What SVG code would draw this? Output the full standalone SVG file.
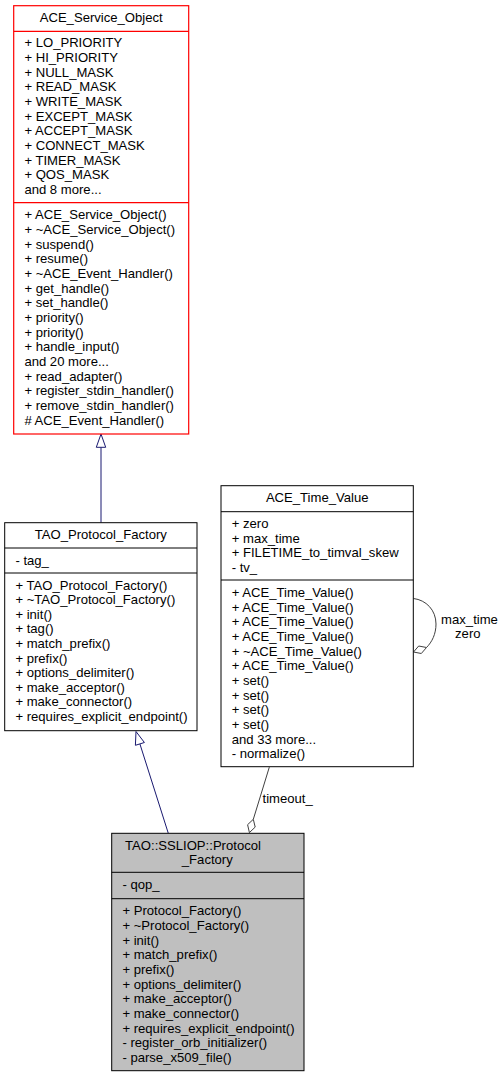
<svg xmlns="http://www.w3.org/2000/svg" width="504" height="1077" viewBox="0 0 504 1077">
<style>
text{font-family:"Liberation Sans",Arial,Helvetica,sans-serif;font-size:13.1px;fill:#000}
.c{text-anchor:middle}
.box{fill:#fff;stroke:#000;stroke-width:1}
.red{fill:#fff;stroke:#ff0000;stroke-width:1.2}
.cur{fill:#bfbfbf;stroke:#000;stroke-width:1}
.div{stroke:#000;stroke-width:1}
.divr{stroke:#ff0000;stroke-width:1.2}
.inh{fill:none;stroke:#191970;stroke-width:1}
.tri{fill:#fff;stroke:#191970;stroke-width:1}
.agg{fill:none;stroke:#404040;stroke-width:1}
.dia{fill:#fff;stroke:#404040;stroke-width:1}
</style>
<rect width="504" height="1077" fill="#fff"/>

<g id="connectors">
  <path class="inh" d="M101,447.3 V522.7"/>
  <polygon class="tri" points="101,434 96.3,447.3 105.7,447.3"/>
  <path class="inh" d="M139.9,743.9 L168.3,833.3"/>
  <polygon class="tri" points="136,731.5 144.4,742.5 135.4,745.3"/>
  <path class="agg" d="M269.3,767.2 L253.3,819.3"/>
  <polygon class="dia" points="249.4,832.6 247.6,824.7 253.3,819.3 255.2,827.1"/>
  <text x="262.5" y="802.5">timeout_</text>
  <path class="agg" d="M413.5,598.5 C426,600 436,610 436,624 C436,634 432,642 426.5,647.5"/>
  <polygon class="dia" points="413.5,652 418.7,646 426.5,647.5 421.3,653.5"/>
  <text class="c" x="469.5" y="624.3">max_time</text>
  <text class="c" x="467.8" y="637.8">zero</text>
</g>

<g id="ACE_Service_Object">
  <rect class="red" x="13.7" y="5.7" width="175" height="428.3"/>
  <line class="divr" x1="13.7" y1="31.3" x2="188.7" y2="31.3"/>
  <line class="divr" x1="13.7" y1="202.7" x2="188.7" y2="202.7"/>
  <text class="c" x="101.2" y="21.5">ACE_Service_Object</text>
  <text x="24.4" y="47.3">+ LO_PRIORITY</text>
  <text x="24.4" y="62">+ HI_PRIORITY</text>
  <text x="24.4" y="76.6">+ NULL_MASK</text>
  <text x="24.4" y="91.3">+ READ_MASK</text>
  <text x="24.4" y="106">+ WRITE_MASK</text>
  <text x="24.4" y="120.6">+ EXCEPT_MASK</text>
  <text x="24.4" y="135.3">+ ACCEPT_MASK</text>
  <text x="24.4" y="150">+ CONNECT_MASK</text>
  <text x="24.4" y="164.7">+ TIMER_MASK</text>
  <text x="24.4" y="179.3">+ QOS_MASK</text>
  <text x="24.4" y="194">and 8 more...</text>
  <text x="24.4" y="219.4">+ ACE_Service_Object()</text>
  <text x="24.4" y="234.1">+ ~ACE_Service_Object()</text>
  <text x="24.4" y="248.7">+ suspend()</text>
  <text x="24.4" y="263.4">+ resume()</text>
  <text x="24.4" y="278.1">+ ~ACE_Event_Handler()</text>
  <text x="24.4" y="292.7">+ get_handle()</text>
  <text x="24.4" y="307.4">+ set_handle()</text>
  <text x="24.4" y="322.1">+ priority()</text>
  <text x="24.4" y="336.8">+ priority()</text>
  <text x="24.4" y="351.4">+ handle_input()</text>
  <text x="24.4" y="366.1">and 20 more...</text>
  <text x="24.4" y="380.8">+ read_adapter()</text>
  <text x="24.4" y="395.4">+ register_stdin_handler()</text>
  <text x="24.4" y="410.1">+ remove_stdin_handler()</text>
  <text x="24.4" y="424.8"># ACE_Event_Handler()</text>
</g>

<g id="TAO_Protocol_Factory">
  <rect class="box" x="4.7" y="522.7" width="192.3" height="208"/>
  <line class="div" x1="4.7" y1="548" x2="197" y2="548"/>
  <line class="div" x1="4.7" y1="573" x2="197" y2="573"/>
  <text class="c" x="100.8" y="539.3">TAO_Protocol_Factory</text>
  <text x="15.4" y="564.6">- tag_</text>
  <text x="15.4" y="589.6">+ TAO_Protocol_Factory()</text>
  <text x="15.4" y="604.2">+ ~TAO_Protocol_Factory()</text>
  <text x="15.4" y="618.8">+ init()</text>
  <text x="15.4" y="633.4">+ tag()</text>
  <text x="15.4" y="648">+ match_prefix()</text>
  <text x="15.4" y="662.6">+ prefix()</text>
  <text x="15.4" y="677.2">+ options_delimiter()</text>
  <text x="15.4" y="691.8">+ make_acceptor()</text>
  <text x="15.4" y="706.4">+ make_connector()</text>
  <text x="15.4" y="721">+ requires_explicit_endpoint()</text>
</g>

<g id="ACE_Time_Value">
  <rect class="box" x="221" y="485.7" width="192.3" height="281"/>
  <line class="div" x1="221" y1="511.7" x2="413.3" y2="511.7"/>
  <line class="div" x1="221" y1="580" x2="413.3" y2="580"/>
  <text class="c" x="317.2" y="501.8">ACE_Time_Value</text>
  <text x="231.7" y="528">+ zero</text>
  <text x="231.7" y="542.7">+ max_time</text>
  <text x="231.7" y="557.3">+ FILETIME_to_timval_skew</text>
  <text x="231.7" y="572">- tv_</text>
  <text x="231.7" y="597">+ ACE_Time_Value()</text>
  <text x="231.7" y="611.7">+ ACE_Time_Value()</text>
  <text x="231.7" y="626.3">+ ACE_Time_Value()</text>
  <text x="231.7" y="641">+ ACE_Time_Value()</text>
  <text x="231.7" y="655.7">+ ~ACE_Time_Value()</text>
  <text x="231.7" y="670.4">+ ACE_Time_Value()</text>
  <text x="231.7" y="685">+ set()</text>
  <text x="231.7" y="699.7">+ set()</text>
  <text x="231.7" y="714.4">+ set()</text>
  <text x="231.7" y="729">+ set()</text>
  <text x="231.7" y="743.7">and 33 more...</text>
  <text x="231.7" y="758.4">- normalize()</text>
</g>

<g id="TAO_SSLIOP_Protocol_Factory">
  <rect class="cur" x="111.7" y="833.3" width="192.3" height="237.4"/>
  <line class="div" x1="111.7" y1="872.3" x2="304" y2="872.3"/>
  <line class="div" x1="111.7" y1="898.7" x2="304" y2="898.7"/>
  <text class="c" x="193" y="849.6">TAO::SSLIOP::Protocol</text>
  <text class="c" x="207.3" y="864.3">_Factory</text>
  <text x="122.4" y="888.6">- qop_</text>
  <text x="122.4" y="915.3">+ Protocol_Factory()</text>
  <text x="122.4" y="930">+ ~Protocol_Factory()</text>
  <text x="122.4" y="944.6">+ init()</text>
  <text x="122.4" y="959.3">+ match_prefix()</text>
  <text x="122.4" y="974">+ prefix()</text>
  <text x="122.4" y="988.6">+ options_delimiter()</text>
  <text x="122.4" y="1003.3">+ make_acceptor()</text>
  <text x="122.4" y="1018">+ make_connector()</text>
  <text x="122.4" y="1032.7">+ requires_explicit_endpoint()</text>
  <text x="122.4" y="1047.3">- register_orb_initializer()</text>
  <text x="122.4" y="1062">- parse_x509_file()</text>
</g>
</svg>
